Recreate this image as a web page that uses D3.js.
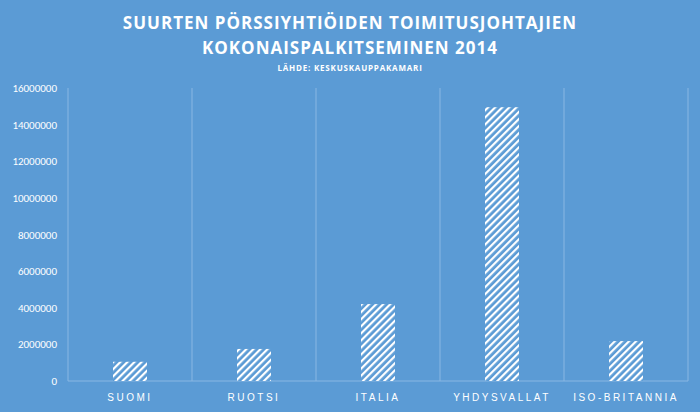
<!DOCTYPE html><html><head><meta charset="utf-8">
<script src="https://cdn.jsdelivr.net/npm/d3@7"></script>
<style>body{margin:0;background:#5b9bd5}svg{display:block}</style></head><body>
<svg id="c" width="700" height="412"></svg>
<script>
const categories=["SUOMI","RUOTSI","ITALIA","YHDYSVALLAT","ISO-BRITANNIA"];
const values=[1050000,1750000,4200000,14950000,2180000];
const yTicks=[0,2000000,4000000,6000000,8000000,10000000,12000000,14000000,16000000];
const svg=d3.select("#c");
svg.append("rect").attr("width",700).attr("height",412).attr("fill","#5b9bd5");
const defs=svg.append("defs");
const p=defs.append("pattern").attr("id","h").attr("width",5).attr("height",5).attr("patternUnits","userSpaceOnUse").attr("patternTransform","rotate(45)");
p.append("rect").attr("width",5).attr("height",5).attr("fill","#5b9bd5");
p.append("rect").attr("width",2.2).attr("height",5).attr("fill","#fff");
const L=68,R=688,T=88,B=381;
const x=d3.scaleBand().domain(categories).range([L,R]);
const y=d3.scaleLinear().domain([0,16000000]).range([B,T]);
const grid="#8ab7e3";
svg.selectAll(".vg").data(d3.range(categories.length+1)).join("line")
 .attr("x1",i=>L+i*x.step()).attr("x2",i=>L+i*x.step()).attr("y1",T).attr("y2",B).attr("stroke",grid);
svg.append("line").attr("x1",L).attr("x2",R).attr("y1",B).attr("y2",B).attr("stroke",grid);
svg.selectAll(".yt").data(yTicks).join("text").attr("x",57).attr("y",d=>y(d)+4).attr("text-anchor","end")
 .attr("fill","#fff").attr("font-family","Calibri, Carlito, 'Liberation Sans', sans-serif").attr("font-size",11).text(d=>d);
const bw=34;
svg.selectAll(".bar").data(values).join("rect")
 .attr("x",(d,i)=>x(categories[i])+x.bandwidth()/2-bw/2).attr("width",bw)
 .attr("y",d=>y(d)).attr("height",d=>B-y(d)).attr("fill","url(#h)");
svg.selectAll(".xl").data(categories).join("text").attr("x",d=>x(d)+x.bandwidth()/2).attr("y",401)
 .attr("text-anchor","middle").attr("fill","#fff").attr("font-family","'Liberation Sans', sans-serif")
 .attr("font-size",10).attr("letter-spacing","2.5px").text(d=>d);
const tf="'Open Sans', sans-serif";
[["SUURTEN  PÖRSSIYHTIÖIDEN  TOIMITUSJOHTAJIEN",29,17],["KOKONAISPALKITSEMINEN  2014",54,17]].forEach(([t,yy,s])=>
 svg.append("text").attr("x",350).attr("y",yy).attr("text-anchor","middle").attr("fill","#fff")
 .attr("font-family",tf).attr("font-weight","bold").attr("font-size",s).attr("letter-spacing","1px").text(t));
svg.append("text").attr("x",350).attr("y",71).attr("text-anchor","middle").attr("fill","#fff")
 .attr("font-family",tf).attr("font-weight","bold").attr("font-size",8).attr("letter-spacing","0.8px").text("LÄHDE: KESKUSKAUPPAKAMARI");
</script></body></html>
